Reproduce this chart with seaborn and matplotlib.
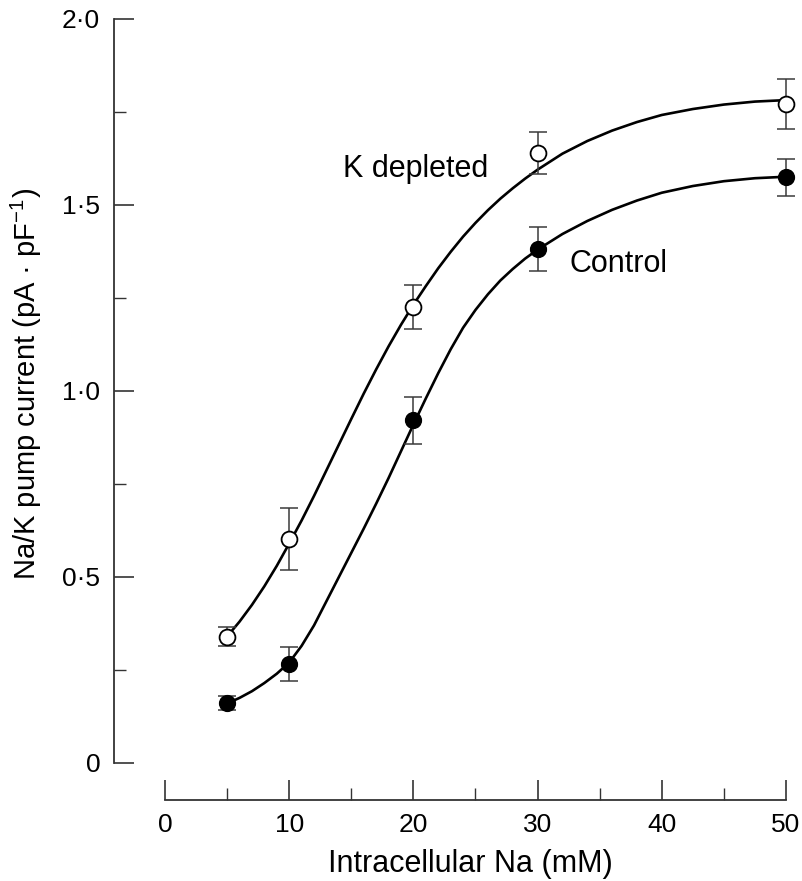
import matplotlib
matplotlib.use("Agg")
import matplotlib.pyplot as plt
import seaborn as sns

# ---- data ----
x_points = [5, 10, 20, 30, 50]
kdep_mean = [0.34, 0.602, 1.226, 1.639, 1.772]
kdep_sem = [0.025, 0.083, 0.060, 0.056, 0.067]
ctrl_mean = [0.161, 0.266, 0.921, 1.382, 1.574]
ctrl_sem = [0.018, 0.046, 0.064, 0.060, 0.049]

# fitted curves
kdep_curve_x = [5, 6, 7, 8, 9, 10, 11, 12, 13, 14, 15, 16, 17, 18, 19, 20, 21, 22,
                23, 24, 25, 26, 27, 28, 29, 30, 32, 34, 36, 38, 40, 42.5, 45, 47.5, 50]
kdep_curve_y = [0.34, 0.38, 0.425, 0.475, 0.53, 0.59, 0.652, 0.718, 0.787, 0.856,
                0.925, 0.993, 1.058, 1.12, 1.178, 1.232, 1.282, 1.330, 1.374, 1.415,
                1.452, 1.486, 1.517, 1.545, 1.571, 1.595, 1.638, 1.672, 1.700, 1.723,
                1.742, 1.758, 1.770, 1.778, 1.782]
ctrl_curve_x = [5, 6, 7, 8, 9, 10, 11, 12, 13, 14, 15, 16, 17, 18, 19, 20, 21, 22,
                23, 24, 25, 26, 27, 28, 29, 30, 32, 34, 36, 38, 40, 42.5, 45, 47.5, 50]
ctrl_curve_y = [0.16, 0.175, 0.193, 0.215, 0.24, 0.27, 0.315, 0.37, 0.435, 0.50,
                0.565, 0.63, 0.697, 0.766, 0.838, 0.91, 0.98, 1.048, 1.112, 1.17,
                1.218, 1.26, 1.297, 1.328, 1.356, 1.38, 1.422, 1.457, 1.487, 1.512,
                1.533, 1.551, 1.564, 1.572, 1.576]

x_ticks = [0, 10, 20, 30, 40, 50]
x_tick_labels = ["0", "10", "20", "30", "40", "50"]
x_minor = [5, 15, 25, 35, 45]
y_ticks = [0, 0.5, 1.0, 1.5, 2.0]
y_tick_labels = ["0", "0·5", "1·0", "1·5", "2·0"]
y_minor = [0.25, 0.75, 1.25, 1.75]

# ---- style ----
sns.set_theme(style="ticks")
plt.rcParams["font.family"] = ["Liberation Sans", "DejaVu Sans"]
plt.rcParams["mathtext.fontset"] = "custom"
plt.rcParams["mathtext.rm"] = "Liberation Sans"
plt.rcParams["mathtext.it"] = "Liberation Sans:italic"
plt.rcParams["mathtext.bf"] = "Liberation Sans:bold"

fig = plt.figure(figsize=(8.03, 8.81), dpi=100)
fig.patch.set_facecolor("white")
ax = fig.add_axes([165 / 803, 1 - 763 / 881, 621 / 803, 744 / 881])
ax.set_facecolor("white")

# curves
sns.lineplot(x=kdep_curve_x, y=kdep_curve_y, ax=ax, color="black", linewidth=1.9,
             zorder=2, clip_on=False)
sns.lineplot(x=ctrl_curve_x, y=ctrl_curve_y, ax=ax, color="black", linewidth=1.9,
             zorder=2, clip_on=False)

# error bars
for mean, sem in ((kdep_mean, kdep_sem), (ctrl_mean, ctrl_sem)):
    eb = ax.errorbar(x_points, mean, yerr=sem, fmt="none", ecolor="#3a3a3a",
                     elinewidth=1.1, capsize=6.5, capthick=1.1, zorder=3)
    for art in list(eb.lines[1]) + list(eb.lines[2]):
        art.set_clip_on(False)

# markers
sns.scatterplot(x=x_points, y=kdep_mean, ax=ax, marker="o", s=130,
                facecolor="white", edgecolor="black", linewidth=1.3,
                zorder=4, clip_on=False)
sns.scatterplot(x=x_points, y=ctrl_mean, ax=ax, marker="o", s=130,
                color="black", edgecolor="black", linewidth=1.0,
                zorder=4, clip_on=False)

# axes
ax.set_xlim(0, 50)
ax.set_ylim(0, 2)
ax.set_xticks(x_ticks)
ax.set_xticklabels(x_tick_labels)
ax.set_xticks(x_minor, minor=True)
ax.set_yticks(y_ticks)
ax.set_yticklabels(y_tick_labels)
ax.set_yticks(y_minor, minor=True)
ax.tick_params(which="major", direction="in", length=14.4, width=1.1,
               color="#222222", labelsize=19, labelcolor="black")
ax.tick_params(axis="y", which="major", pad=10)
ax.tick_params(axis="x", which="major", pad=9.4)
ax.tick_params(which="minor", direction="in", length=8.5, width=1.0,
               color="#333333")

sns.despine(ax=ax)
for side in ("left", "bottom"):
    ax.spines[side].set_color("#333333")
    ax.spines[side].set_linewidth(1.3)
ax.spines["left"].set_position(("outward", 36.7))
ax.spines["bottom"].set_position(("outward", 26.6))

ax.set_xlabel("Intracellular Na (mM)", fontsize=22, color="black")
ax.xaxis.set_label_coords(0.491, -0.116)
ax.set_ylabel("Na/K pump current (pA · pF$^{-1}$)", fontsize=21, color="black")
ax.yaxis.set_label_coords(-0.195, 0.51)

ax.text(14.33, 1.575, "K depleted", fontsize=22, va="baseline", ha="left",
        color="black")
ax.text(32.6, 1.321, "Control", fontsize=22, va="baseline", ha="left",
        color="black")

fig.savefig("out.png", dpi=100, facecolor="white")
